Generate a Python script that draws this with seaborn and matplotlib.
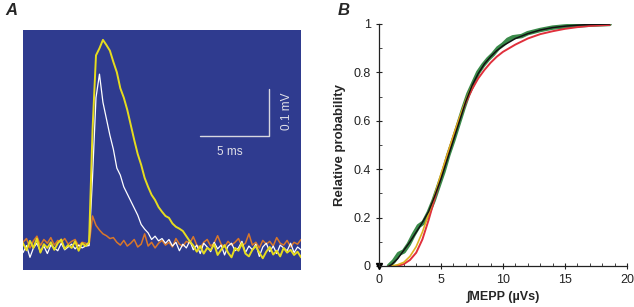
import numpy as np
import pandas as pd
import seaborn as sns
import matplotlib.pyplot as plt

# ---- Panel A: MEPP traces (mV), sampled every 0.25 ms from 0 to 20 ms ----
dt = 0.25
trace_yellow = [0.01, -0.005, 0.015, 0.0, 0.02, -0.01, 0.008, 0.0, 0.012, -0.004,
                0.01, 0.018, -0.002, 0.006, 0.0, 0.014, -0.006, 0.01, 0.004, 0.012,
                0.25, 0.41, 0.425, 0.443, 0.432, 0.42, 0.396, 0.374, 0.34, 0.32,
                0.294, 0.262, 0.23, 0.20, 0.177, 0.149, 0.13, 0.113, 0.102, 0.087,
                0.077, 0.068, 0.064, 0.052, 0.045, 0.041, 0.036, 0.025, 0.014,
                0.005, -0.008, 0.004, -0.012, 0.0, -0.005, 0.008, -0.015, -0.004, 0.006,
                -0.01, -0.02, 0.0, -0.006, 0.01, -0.012, -0.018, -0.004, 0.004, -0.01,
                -0.022, -0.008, 0.002, -0.014, -0.006, -0.018, 0.0, -0.01, -0.004, -0.015,
                -0.008, -0.02]
trace_white = [-0.01, 0.005, -0.02, 0.0, 0.01, -0.008, 0.004, -0.012, 0.006, 0.0,
               -0.006, 0.01, -0.004, 0.002, 0.008, -0.002, 0.006, 0.0, 0.004, 0.005,
               0.15, 0.32, 0.37, 0.31, 0.275, 0.24, 0.21, 0.17, 0.155, 0.13,
               0.115, 0.10, 0.085, 0.07, 0.05, 0.04, 0.032, 0.018, 0.025, 0.015,
               0.02, 0.01, 0.018,
               0.004, 0.012, -0.006, 0.008, 0.0, 0.015, -0.004, 0.006, -0.012, 0.01,
               0.002, -0.008, 0.012, -0.002, 0.006, -0.015, 0.004, 0.01, -0.006, 0.0,
               0.014, -0.01, 0.004, -0.004, 0.008, -0.018, 0.002, 0.01, -0.008, 0.004,
               -0.012, 0.006, 0.0, -0.006, 0.01, -0.01, 0.002, -0.004]
trace_orange = [0.012, 0.02, 0.0, 0.015, 0.025, 0.005, 0.018, 0.01, 0.022, 0.006,
                0.016, 0.012, 0.02, 0.008, 0.014, 0.018, 0.004, 0.012, 0.01, 0.006,
                0.068, 0.048, 0.038, 0.03, 0.026, 0.02, 0.022,
                0.012, 0.006, 0.016, 0.004, 0.01, 0.018, 0.002, 0.008, 0.03, 0.004,
                0.012, 0.0, 0.01, 0.016, 0.006, 0.012, 0.002, 0.02, 0.008, 0.004,
                0.014, 0.01, 0.024, 0.006, 0.0, 0.012, 0.018, 0.004, 0.01, 0.026,
                0.008, 0.002, 0.014, 0.006, 0.012, 0.02, 0.004, 0.01, 0.03, 0.006,
                0.012, 0.0, 0.016, 0.008, 0.014, 0.004, 0.022, 0.01, 0.006, 0.016,
                0.002, 0.012, 0.008, 0.018]
t_ms = np.arange(len(trace_yellow)) * dt

# ---- Panel B: cumulative distributions of integrated MEPP (uVs) ----
green_x = [0.8, 1.2, 1.6, 2.0, 2.4, 2.8, 3.2, 3.6, 4.0, 4.4, 4.8, 5.2, 5.6, 6.0, 6.4,
           6.8, 7.2, 7.6, 8.0, 8.4, 8.8, 9.2, 9.6, 10.0, 10.4, 10.8, 11.5, 12, 13, 14,
           15, 16, 17, 18.6]
green_y = [0, 0.02, 0.05, 0.06, 0.09, 0.13, 0.165, 0.18, 0.22, 0.27, 0.33, 0.39, 0.46,
           0.52, 0.585, 0.65, 0.71, 0.755, 0.80, 0.83, 0.855, 0.875, 0.90, 0.915, 0.935,
           0.945, 0.95, 0.962, 0.975, 0.985, 0.99, 0.994, 0.997, 1.0]
black_x = [0.8, 1.0, 1.5, 2.0, 2.5, 3.0, 3.5, 4.0, 4.5, 5.0, 5.5, 6.0, 6.5, 7.0, 7.5,
           8.0, 8.5, 9.0, 9.5, 10.0, 11, 12, 13, 14, 15, 16, 17, 18.6]
black_y = [0, 0.005, 0.03, 0.065, 0.10, 0.14, 0.18, 0.225, 0.29, 0.36, 0.44, 0.52, 0.60,
           0.68, 0.745, 0.795, 0.835, 0.865, 0.89, 0.91, 0.94, 0.96, 0.975, 0.985, 0.991,
           0.995, 0.998, 1.0]
red_x = [0.8, 1.5, 2.0, 2.5, 3.0, 3.5, 4.0, 4.5, 5.0, 5.5, 6.0, 6.5, 7.0, 7.5, 8.0,
         8.5, 9.0, 9.5, 10.0, 11, 12, 13, 14, 15, 16, 17, 18.6]
red_y = [0, 0.0, 0.008, 0.025, 0.055, 0.11, 0.19, 0.28, 0.37, 0.455, 0.535, 0.61, 0.675,
         0.73, 0.775, 0.81, 0.84, 0.865, 0.885, 0.915, 0.94, 0.958, 0.97, 0.98, 0.987,
         0.992, 0.996]
yellow_x = [1.0, 1.5, 2.0, 2.5, 3.0, 3.5, 4.0, 4.5, 5.0, 5.5, 6.0, 6.5, 7.0, 7.5]
yellow_y = [0, 0.005, 0.015, 0.04, 0.08, 0.14, 0.215, 0.295, 0.38, 0.46, 0.54, 0.615,
            0.685, 0.745]

sns.set_style("white")
plt.rcParams['font.family'] = ['Liberation Sans', 'DejaVu Sans']

fig = plt.figure(figsize=(6.34, 3.07), dpi=100)

# Panel A
axA = fig.add_axes([0.0363, 0.1205, 0.4385, 0.7818])
axA.set_facecolor('#2f3b8f')
sns.lineplot(x=t_ms, y=trace_orange, ax=axA, color='#d9772a', lw=1.1)
sns.lineplot(x=t_ms, y=trace_white, ax=axA, color='white', lw=0.9)
sns.lineplot(x=t_ms, y=trace_yellow, ax=axA, color='#e6dc1e', lw=1.4)
axA.set_xlim(0, 20)
axA.set_ylim(-0.047, 0.464)
axA.set_xticks([])
axA.set_yticks([])
for s in axA.spines.values():
    s.set_visible(False)
# scale bars
axA.plot([12.7, 17.7, 17.7], [0.238, 0.238, 0.338], color='#d8d8e0', lw=1.0)
axA.text(14.85, 0.205, '5 ms', color='#e0e0e8', fontsize=8.5, ha='center', va='center')
axA.text(19.0, 0.29, '0.1 mV', color='#e0e0e8', fontsize=8.5, ha='center', va='center',
         rotation=90)
fig.text(0.008, 0.965, 'A', fontsize=12, fontweight='bold', fontstyle='italic',
         ha='left', va='center')

# Panel B
axB = fig.add_axes([0.5978, 0.1336, 0.3912, 0.7883])
sns.lineplot(x=green_x, y=green_y, ax=axB, color='#3a8a4a', lw=3.2)
sns.lineplot(x=red_x, y=red_y, ax=axB, color='#e0303c', lw=1.4)
sns.lineplot(x=yellow_x, y=yellow_y, ax=axB, color='#e0b020', lw=1.2)
sns.lineplot(x=black_x, y=black_y, ax=axB, color='#111111', lw=1.1)
axB.plot([0], [0.0], marker='v', color='black', ms=4, clip_on=False)
axB.set_xlim(0, 20)
axB.set_ylim(0, 1)
axB.set_xticks([0, 5, 10, 15, 20])
axB.set_xticklabels(['0', '5', '10', '15', '20'])
axB.set_yticks([0, 0.2, 0.4, 0.6, 0.8, 1])
axB.set_yticklabels(['0', '0.2', '0.4', '0.6', '0.8', '1'])
axB.set_xticks(np.arange(0, 21, 1), minor=True)
axB.set_yticks(np.arange(0, 1.01, 0.1), minor=True)
axB.tick_params(which='major', direction='inout', length=5, width=0.8, labelsize=9,
                colors='#222222', bottom=True, left=True)
axB.tick_params(which='minor', direction='in', length=2.5, width=0.6, bottom=True, left=True)
axB.set_xlabel('∫MEPP (µVs)', fontsize=9, fontweight='bold', labelpad=3)
axB.set_ylabel('Relative probability', fontsize=9.5, fontweight='bold', labelpad=5)
sns.despine(ax=axB)
for s in ['left', 'bottom']:
    axB.spines[s].set_color('#222222')
    axB.spines[s].set_linewidth(0.9)
fig.text(0.532, 0.965, 'B', fontsize=12, fontweight='bold', fontstyle='italic',
         ha='left', va='center')

fig.savefig('out.png', dpi=100)
